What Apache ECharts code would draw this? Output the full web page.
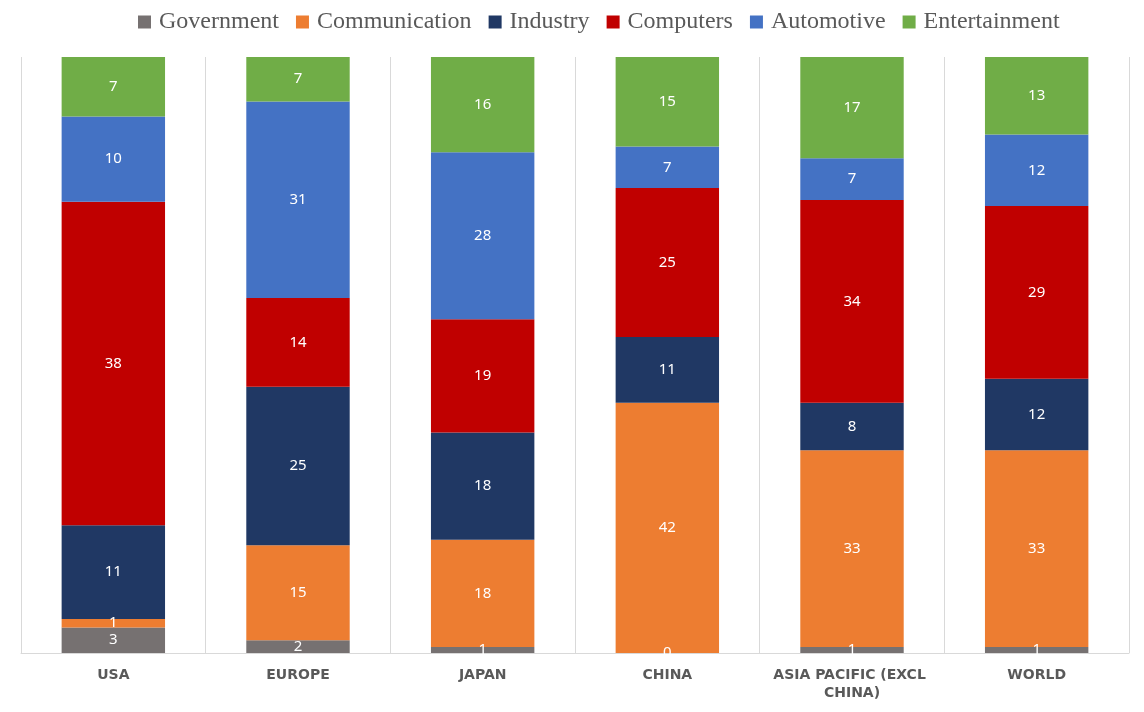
<!DOCTYPE html>
<html>
<head>
<meta charset="utf-8">
<script src="https://cdn.jsdelivr.net/npm/echarts@6/dist/echarts.min.js"></script>
<style>
  html, body { margin: 0; padding: 0; background: #fff; }
  #chart { width: 1144px; height: 712px; }
</style>
</head>
<body>
<div id="chart"></div>
<script>
// raw values per region, bars are drawn as share of each region's total
const categories = ['USA', 'EUROPE', 'JAPAN', 'CHINA', 'ASIA PACIFIC (EXCL CHINA)', 'WORLD'];
const seriesNames = ['Government', 'Communication', 'Industry', 'Computers', 'Automotive', 'Entertainment'];
const government = [3, 2, 1, 0, 1, 1];
const communication = [1, 15, 18, 42, 33, 33];
const industry = [11, 25, 18, 11, 8, 12];
const computers = [38, 14, 19, 25, 34, 29];
const automotive = [10, 31, 28, 7, 7, 12];
const entertainment = [7, 7, 16, 15, 17, 13];

const colors = ['#767171', '#ED7D31', '#203864', '#C00000', '#4472C4', '#70AD47'];
const values = [government, communication, industry, computers, automotive, entertainment];

// total of each region, used to stack to 100%
const totals = categories.map((c, i) => values.reduce((s, arr) => s + arr[i], 0));

const chart = echarts.init(document.getElementById('chart'));

const option = {
    color: colors,
    animation: false,
    legend: {
        top: 5,
        left: 133,
        itemWidth: 13,
        itemHeight: 13,
        itemGap: 17,
        icon: 'rect',
        textStyle: {
            fontFamily: 'Liberation Serif',
            fontSize: 24,
            color: '#595959',
            padding: [0, 0, 0, 3]
        },
        data: seriesNames
    },
    grid: {
        top: 57,
        left: 21,
        right: 15,
        bottom: 59
    },
    xAxis: {
        type: 'category',
        data: categories,
        axisLine: { lineStyle: { color: '#D9D9D9', width: 1 } },
        axisTick: { show: false },
        splitLine: { show: true, lineStyle: { color: '#D9D9D9', width: 1 } },
        axisLabel: {
            interval: 0,
            margin: 13,
            width: 172,
            overflow: 'break',
            lineHeight: 18,
            fontFamily: 'DejaVu Sans',
            fontWeight: 'bold',
            fontSize: 14,
            color: '#595959'
        }
    },
    yAxis: {
        type: 'value',
        min: 0,
        max: 100,
        show: false,
        splitLine: { show: false }
    },
    series: seriesNames.map((name, si) => ({
        name: name,
        type: 'bar',
        stack: 'total',
        barWidth: '56%',
        data: values[si].map((v, i) => v / totals[i] * 100),
        label: {
            show: true,
            position: 'inside',
            color: '#FFFFFF',
            fontFamily: 'Noto Sans',
            fontSize: 15,
            formatter: p => String(values[si][p.dataIndex])
        }
    }))
};
chart.setOption(option);
</script>
</body>
</html>
